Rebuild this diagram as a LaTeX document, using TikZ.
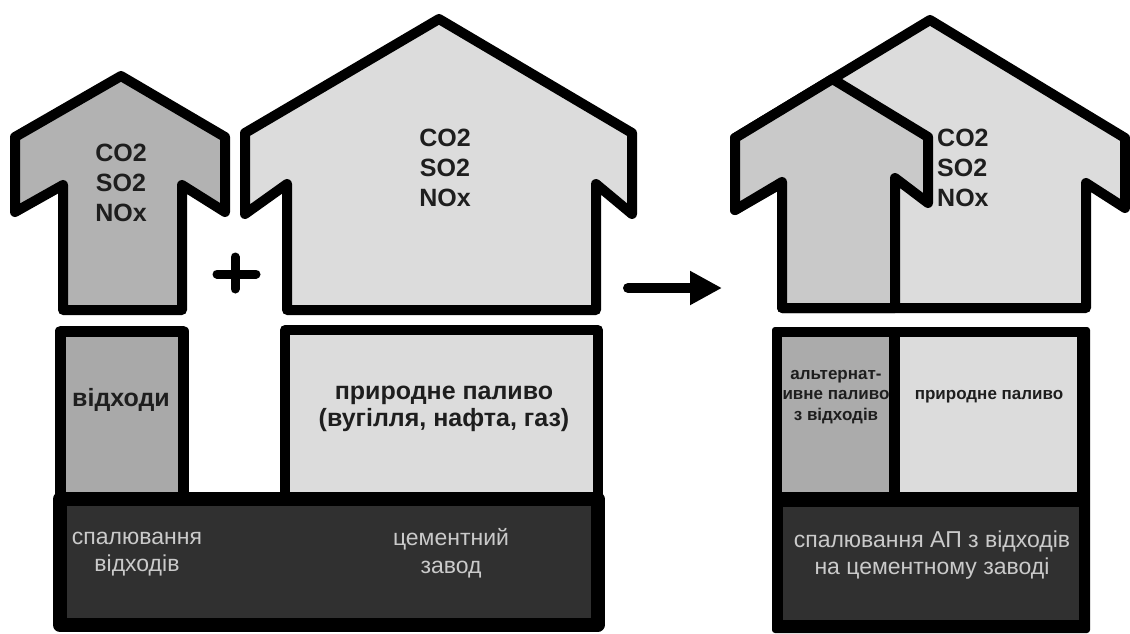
\documentclass[tikz,border=0pt]{standalone}
\usepackage{fontspec}
\setmainfont{Liberation Sans}
\usetikzlibrary{arrows.meta}

\definecolor{ink}{HTML}{1E1E1E}
\definecolor{wastegray}{HTML}{B2B2B2}
\definecolor{wastebox}{HTML}{A9A9A9}
\definecolor{fuellight}{HTML}{DCDCDC}
\definecolor{altarrow}{HTML}{C9C9C9}
\definecolor{altbox}{HTML}{ABABAB}
\definecolor{plantdark}{HTML}{303030}
\definecolor{plantink}{HTML}{CACACA}

\tikzset{
  outline/.style={draw=black, line width=10pt, line join=round},
  boxframe/.style={draw=black, line join=round},
  gas/.style={font=\bfseries\fontsize{25}{30}\selectfont, text=ink, align=center, inner sep=0pt},
  fuel/.style={font=\bfseries\fontsize{25}{26.5}\selectfont, text=ink, align=center, inner sep=0pt},
  plant/.style={font=\fontsize{23}{27.5}\selectfont, text=plantink, align=center, inner sep=0pt},
  smallfuel/.style={font=\bfseries\fontsize{17}{20.5}\selectfont, text=ink, align=center, inner sep=0pt},
  plussign/.style={draw=black, line width=9pt, line cap=round}
}

\begin{document}
\begin{tikzpicture}[x=1pt, y=-1pt]
\useasboundingbox (0,0) rectangle (1130,633);

% ---------- left: waste incineration plus cement plant ----------
% emissions of waste incineration
\draw[outline, fill=wastegray]
  (121,76) -- (225,137) -- (225,212) -- (182,185) -- (182,310)
  -- (63,310) -- (63,185) -- (15,212) -- (15,137) -- cycle;
\node[gas] (gasWaste) at (121,183) {CO2\\SO2\\NOx};

% emissions of the cement plant
\draw[outline, fill=fuellight]
  (439,19) -- (632,133) -- (632,214) -- (596,184) -- (596,310)
  -- (287,310) -- (287,184) -- (245,214) -- (245,133) -- cycle;
\node[gas] (gasPlant) at (445,168) {CO2\\SO2\\NOx};

% plus sign
\draw[plussign] (217,274) -- (256,274) (235,257) -- (235,289);

% fuel boxes and the plants below them
\draw[boxframe, line width=11pt, fill=wastebox] (60.5,331) rectangle (183,499);
\draw[boxframe, line width=10pt, fill=fuellight] (285,330) rectangle (598,499);
\draw[boxframe, line width=14pt, fill=plantdark] (60,499) rectangle (597.5,625);

\node[fuel] (waste) at (121,400) {відходи};
\node[fuel] (natFuel) at (444,409) {природне паливо\\(вугілля, нафта, газ)};
\node[plant] (burn) at (137,554) {спалювання\\відходів};
\node[plant] (plant) at (451,553) {цементний\\завод};

% ---------- transition ----------
\coordinate (goFrom) at (628,288);
\coordinate (goTo) at (722,288);
\draw[line width=10pt, line cap=round, -{Triangle[length=32pt,width=32pt]}] (goFrom) -- (goTo);

% ---------- right: alternative fuel burnt at the cement plant ----------
\draw[outline, fill=fuellight]
  (930,20) -- (1125,138) -- (1125,208) -- (1086,183) -- (1086,308)
  -- (782,308) -- (782,183) -- (735,210) -- (735,138) -- cycle;
\draw[outline, fill=altarrow]
  (832.5,79) -- (928,137) -- (928,203) -- (895,178) -- (895,308)
  -- (782,308) -- (782,182) -- (735,210) -- (735,138) -- cycle;
\node[gas, align=left, anchor=west] (gasJoint) at (937,168) {CO2\\SO2\\NOx};

\fill[black, rounded corners=3pt] (772,327) rectangle (1090,633);
\fill[altbox] (782,337) rectangle (889,492);
\fill[fuellight] (900,337) rectangle (1077,492);
\fill[plantdark] (783,507) rectangle (1079,620);

\node[smallfuel] (altFuel) at (836,397) {альтернат-\\ивне паливо\\з відходів};
\node[smallfuel] (natFuelR) at (989,397) {природне паливо};
\node[plant] (coBurn) at (932,555) {спалювання АП з відходів\\на цементному заводі};
\end{tikzpicture}
\end{document}
